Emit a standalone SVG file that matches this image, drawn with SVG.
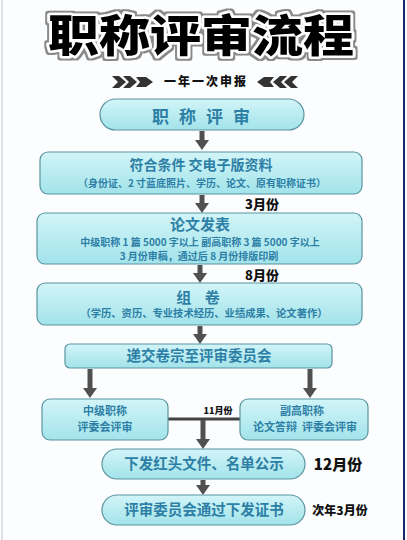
<svg xmlns="http://www.w3.org/2000/svg" width="407" height="540" viewBox="0 0 407 540">
<style>
.box{fill:url(#bg);stroke:#5b949f;stroke-width:1.2}
.t{font-family:"Noto Sans CJK SC","Noto Sans",sans-serif;fill:#2d7fa6;font-weight:bold;text-anchor:middle}
.h{font-family:"Noto Sans CJK SC","Noto Sans",sans-serif;fill:#111;font-weight:900;text-anchor:middle}
.arr{stroke:#505050;stroke-width:5;fill:none;marker-end:url(#ah)}
</style>
<defs>
<linearGradient id="bg" x1="0" y1="0" x2="0" y2="1">
<stop offset="0" stop-color="#d2f5f8"/>
<stop offset="1" stop-color="#a2e3ea"/>
</linearGradient>
<marker id="ah" viewBox="0 0 10 14" refX="0" refY="7" markerWidth="10" markerHeight="14" markerUnits="userSpaceOnUse" orient="auto">
<path d="M0,0 L10,7 L0,14 Z" fill="#505050"/>
</marker>
<filter id="outl" x="-10%" y="-30%" width="120%" height="160%">
<feMorphology in="SourceAlpha" operator="dilate" radius="1.6" result="d"/>
<feFlood flood-color="#8a8a8a"/>
<feComposite in2="d" operator="in" result="g"/>
<feMerge><feMergeNode in="g"/><feMergeNode in="SourceGraphic"/></feMerge>
</filter>
</defs>
<rect width="407" height="540" fill="#fbfdfe"/>
<line x1="2" y1="0" x2="2" y2="540" stroke="#d4d8dc" stroke-width="1.5"/>
<line x1="404" y1="0" x2="404" y2="540" stroke="#1c2470" stroke-width="2"/>

<g id="title">
<text x="201" y="52" font-family="'Noto Sans CJK SC',sans-serif" font-weight="900" font-size="44" textLength="306" lengthAdjust="spacingAndGlyphs" text-anchor="middle" fill="#000" stroke="#fff" stroke-width="5" stroke-linejoin="round" paint-order="stroke" filter="url(#outl)">职称评审流程</text>
</g>
<g id="subtitle">
<g fill="#333">
<polygon points="112,76 119,76 126,82 119,88 112,88 118,82"/>
<polygon points="123,76 130,76 137,82 130,88 123,88 129,82"/>
<polygon points="136,77 146,77 153,82 146,87 136,87 140,82"/>
<polygon points="298,76 291,76 284,82 291,88 298,88 292,82"/>
<polygon points="287,76 280,76 273,82 280,88 287,88 281,82"/>
<polygon points="274,77 264,77 257,82 264,87 274,87 270,82"/>
</g>
<text class="h" x="206" y="86" font-size="12" letter-spacing="2">一年一次申报</text>
</g>

<g id="connectors">
<line class="arr" x1="202" y1="131" x2="202" y2="140"/>
<line class="arr" x1="202" y1="195" x2="202" y2="203"/>
<line class="arr" x1="200" y1="265" x2="200" y2="273"/>
<line class="arr" x1="200" y1="326" x2="200" y2="334"/>
<line class="arr" x1="90" y1="369" x2="90" y2="388"/>
<line class="arr" x1="310" y1="369" x2="310" y2="388"/>
<line x1="168" y1="419" x2="240" y2="419" stroke="#444" stroke-width="3"/>
<line class="arr" x1="203" y1="420" x2="203" y2="439"/>
<line class="arr" x1="203" y1="480" x2="203" y2="485"/>
</g>

<g id="n1">
<rect class="box" x="100" y="99" width="204" height="31" rx="15.5"/>
<text class="t" x="206" y="123" font-size="17" font-weight="normal" letter-spacing="10">职称评审</text>
</g>
<g id="n2">
<rect class="box" x="40" y="152" width="322" height="42" rx="8"/>
<text class="t" x="201" y="170" font-size="14">符合条件  交电子版资料</text>
<text class="t" x="202" y="187" font-size="10">（身份证、2 寸蓝底照片、学历、论文、原有职称证书）</text>
</g>
<g id="n3">
<rect class="box" x="37" y="213" width="325" height="51" rx="8"/>
<text class="t" x="200" y="230" font-size="15">论文发表</text>
<text class="t" x="200" y="246" font-size="10">中级职称 1 篇 5000 字以上  副高职称  3 篇 5000 字以上</text>
<text class="t" x="199" y="260" font-size="10">3 月份审稿，通过后 8 月份排版印刷</text>
</g>
<g id="n4">
<rect class="box" x="37" y="283" width="325" height="42" rx="8"/>
<text class="t" x="198" y="303" font-size="15" xml:space="preserve">组    卷</text>
<text class="t" x="204" y="317" font-size="10.3">（学历、资历、专业技术经历、业绩成果、论文著作）</text>
</g>
<g id="n5">
<rect class="box" x="65" y="344" width="267" height="24" rx="5"/>
<text class="t" x="199" y="361" font-size="14.5">递交卷宗至评审委员会</text>
</g>
<g id="n6">
<rect class="box" x="42" y="399" width="126" height="41" rx="8"/>
<text class="t" x="105" y="415" font-size="11">中级职称</text>
<text class="t" x="105" y="431" font-size="11">评委会评审</text>
</g>
<g id="n7">
<rect class="box" x="240" y="399" width="128" height="41" rx="8"/>
<text class="t" x="302" y="415" font-size="11">副高职称</text>
<text class="t" x="305" y="431" font-size="11" xml:space="preserve">论文答辩  评委会评审</text>
</g>
<g id="n8">
<rect class="box" x="102" y="449" width="203" height="30" rx="15"/>
<text class="t" x="204" y="469" font-size="14.5">下发红头文件、名单公示</text>
</g>
<g id="n9">
<rect class="box" x="102" y="495" width="203" height="30" rx="15"/>
<text class="t" x="204" y="515" font-size="14.5">评审委员会通过下发证书</text>
</g>

<g id="labels">
<text class="h" x="262" y="209" font-size="13">3月份</text>
<text class="h" x="262" y="280" font-size="13">8月份</text>
<text class="h" x="218" y="414" font-size="9">11月份</text>
<text class="h" x="338" y="470" font-size="15">12月份</text>
<text class="h" x="340" y="515" font-size="12">次年3月份</text>
</g>
</svg>
